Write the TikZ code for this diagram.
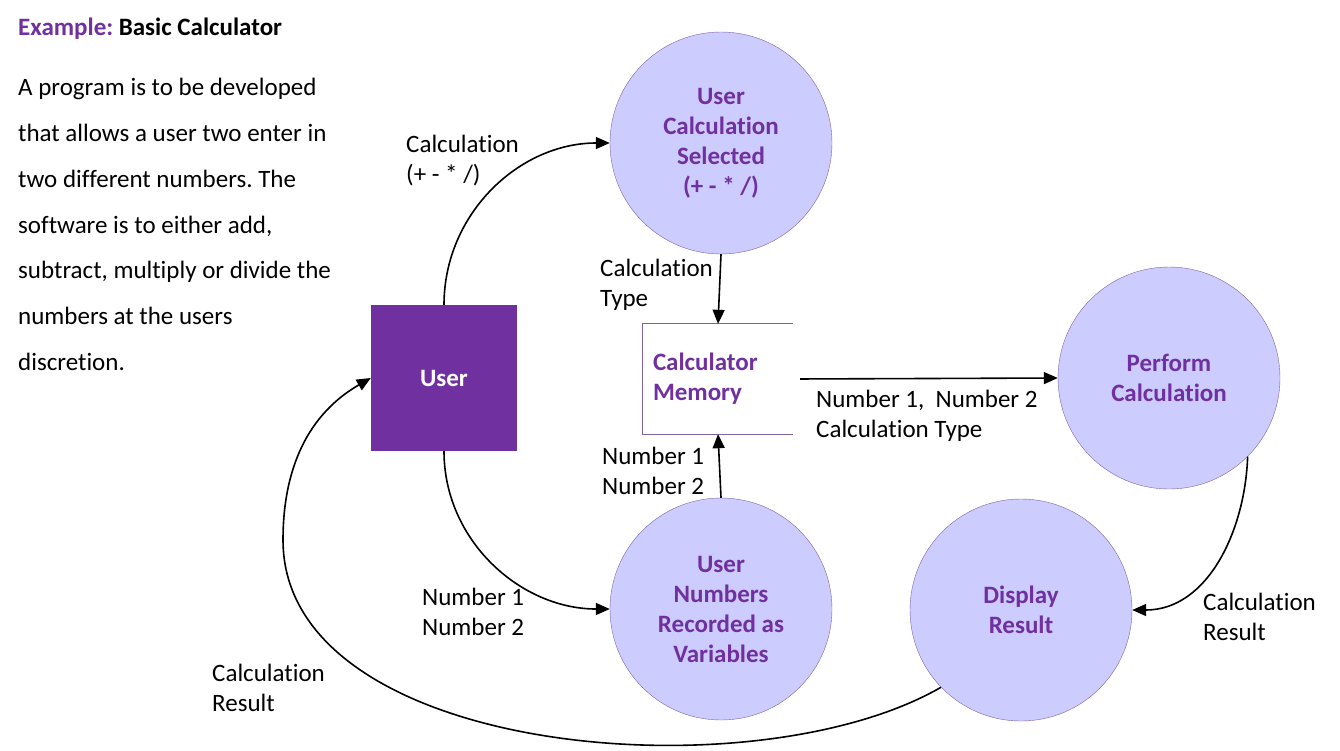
\documentclass[tikz,border=0pt]{standalone}
\usepackage{fontspec}
\setmainfont{Carlito}[Ligatures=NoCommon]
\usepackage{xcolor}
\usetikzlibrary{arrows.meta,positioning}
\frenchspacing

\definecolor{procfill}{RGB}{204,204,255}
\definecolor{procline}{RGB}{128,100,162}
\definecolor{dfdpurple}{RGB}{112,48,160}

\tikzset{
	txt/.style={font=\fontsize{25}{30}\selectfont},
	proc/.style={circle,draw=procline,fill=procfill,minimum size=222pt,inner sep=0pt,
		txt,font=\fontsize{25}{30}\selectfont\bfseries,text=dfdpurple,align=center},
	flow/.style={line width=1.6pt,-{Triangle[length=14pt,width=12pt]}},
	lbl/.style={txt,align=left,anchor=west,inner sep=0pt}
}

\begin{document}
\begin{tikzpicture}[x=1pt,y=1pt]
		
		\useasboundingbox (0,0) rectangle (1340,-750);
		
		% explanation on the left
		\node[
		lbl,
		font=\fontsize{25}{30}\selectfont\bfseries
		]
		(title)
		at (18,-29)
		{\textcolor{dfdpurple}{Example:}~Basic Calculator};
		
		\node[
		lbl,
		font=\fontsize{25}{45.7}\selectfont
		]
		(task)
		at (18,-224.5)
		{A program is to be developed\\
			that allows a user two enter in\\
			two different numbers. The\\
			software is to either add,\\
			subtract, multiply or divide the\\
			numbers at the users\\
			discretion.};
		
		% external entity
		\node[
		fill=dfdpurple,
		minimum size=146pt,
		txt,
		font=\fontsize{25}{30}\selectfont\bfseries,
		text=white
		]
		(user)
		at (444,-378)
		{User};
		
		% processes
		\node[proc] (ucalc) at (721,-143) {User\\Calculation\\Selected\\(+ - * /)};
		\node[proc] (unum) at (721,-609) {User\\Numbers\\Recorded as\\Variables};
		\node[proc] (perf) at (1169,-378) {Perform\\Calculation};
		\node[proc] (disp) at (1021,-610) {Display\\Result};
		
		% data store
		\node[
		minimum height=110pt,
		text width=130pt,
		inner sep=10pt,
		align=left,
		txt,
		font=\fontsize{25}{30}\selectfont\bfseries,
		text=dfdpurple
		]
		(mem)
		at (718,-379)
		{Calculator\\Memory};
		\draw[procline,line width=1pt] (mem.north east) -- (mem.north west) -- (mem.south west) -- (mem.south east);
		
		% data flows
		\draw[flow] (user.north) to[out=90,in=180] (ucalc.west);
		\draw[flow] (ucalc.south) -- (mem.north);
		\draw[flow,shorten <=7pt] (mem.east) -- (perf.west);
		\draw[flow] (unum.north) -- (mem.south);
		\draw[flow] (user.south) to[out=-90,in=180] (unum.west);
		\draw[flow] (perf.-45) to[out=-92,in=0] (disp.east);
		
		\coordinate (bend) at (283,-540);
		\draw[flow] (disp.224) to[out=-150,in=-90,looseness=0.82] (bend) to[out=90,in=-150] (user.west);
		
		% flow labels
		\node[lbl] (l1) at (406,-160.5) {Calculation\\(+ - * /)};
		\node[lbl] (l2) at (600,-285) {Calculation\\Type};
		\node[lbl] (l3) at (816,-416) {Number 1,\ \ Number 2\\Calculation Type};
		\node[lbl] (l4) at (602,-471) {Number 1\\Number 2};
		\node[lbl] (l5) at (422,-612) {Number 1\\Number 2};
		\node[lbl] (l6) at (1203,-617) {Calculation\\Result};
		\node[lbl] (l7) at (212,-688) {Calculation\\Result};
		
	\end{tikzpicture}
\end{document}
